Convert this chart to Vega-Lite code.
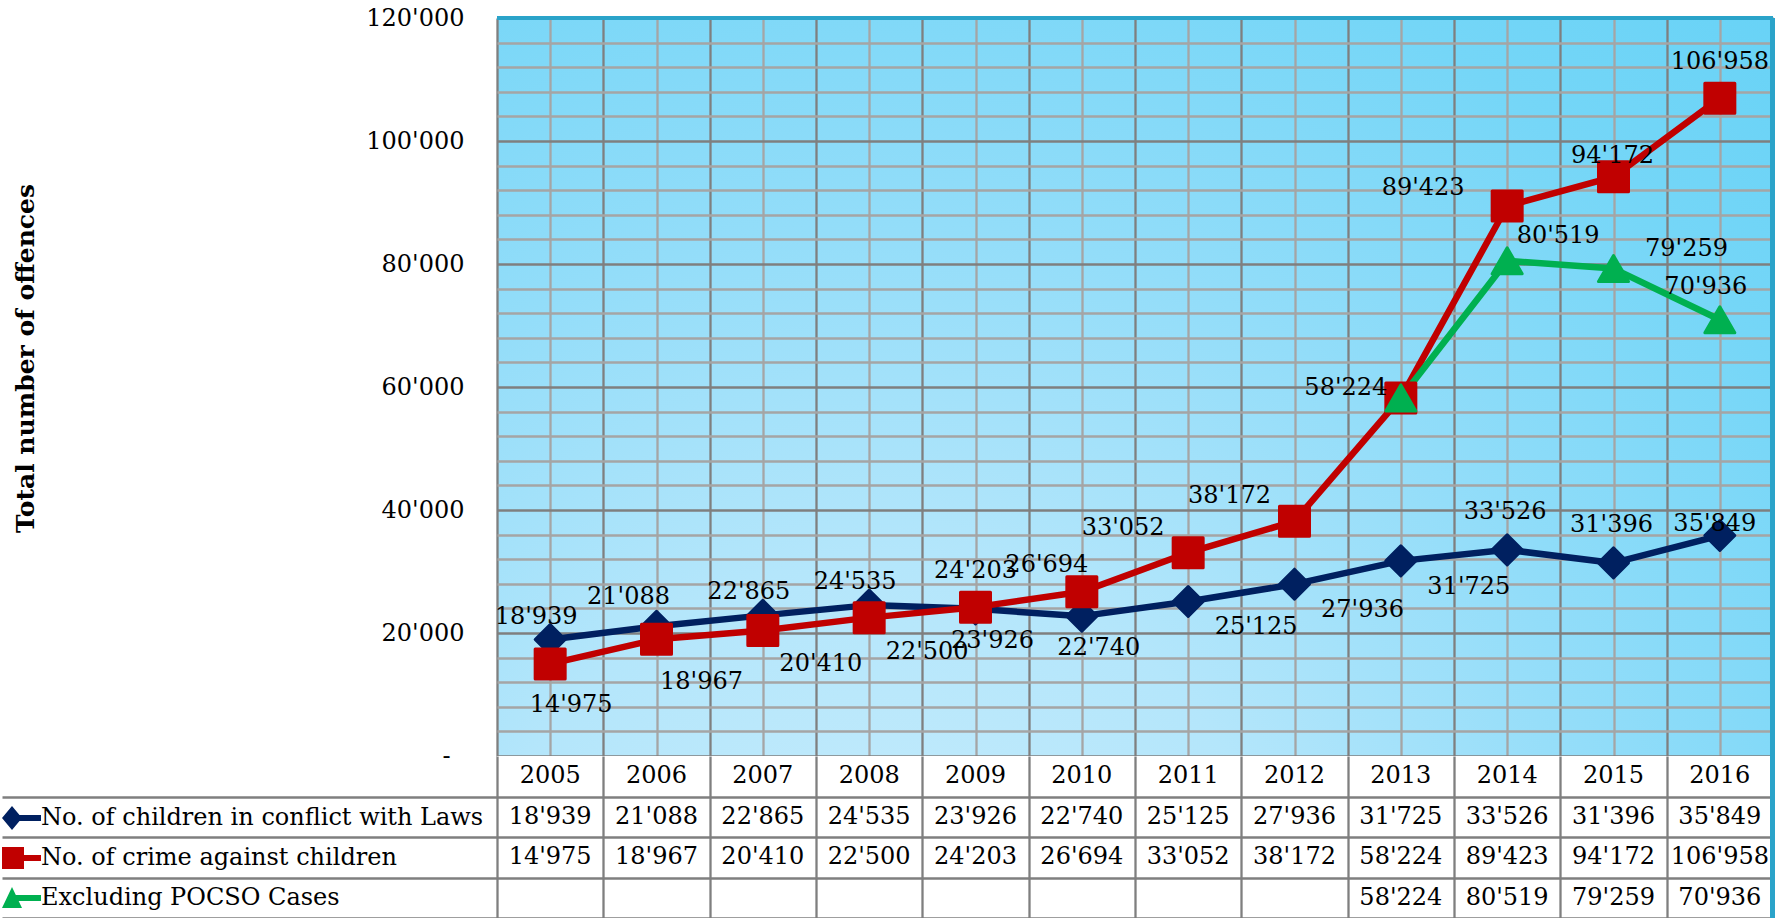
{
  "$schema": "https://vega.github.io/schema/vega-lite/v6.json",
  "background": "white",
  "padding": {"left": 0, "top": 6, "right": 0, "bottom": 0},
  "datasets": {
    "d": [
      {"year": 2005, "series": "No. of children in conflict with Laws", "value": 18939},
      {"year": 2006, "series": "No. of children in conflict with Laws", "value": 21088},
      {"year": 2007, "series": "No. of children in conflict with Laws", "value": 22865},
      {"year": 2008, "series": "No. of children in conflict with Laws", "value": 24535},
      {"year": 2009, "series": "No. of children in conflict with Laws", "value": 23926},
      {"year": 2010, "series": "No. of children in conflict with Laws", "value": 22740},
      {"year": 2011, "series": "No. of children in conflict with Laws", "value": 25125},
      {"year": 2012, "series": "No. of children in conflict with Laws", "value": 27936},
      {"year": 2013, "series": "No. of children in conflict with Laws", "value": 31725},
      {"year": 2014, "series": "No. of children in conflict with Laws", "value": 33526},
      {"year": 2015, "series": "No. of children in conflict with Laws", "value": 31396},
      {"year": 2016, "series": "No. of children in conflict with Laws", "value": 35849},
      {"year": 2005, "series": "No. of crime against children", "value": 14975},
      {"year": 2006, "series": "No. of crime against children", "value": 18967},
      {"year": 2007, "series": "No. of crime against children", "value": 20410},
      {"year": 2008, "series": "No. of crime against children", "value": 22500},
      {"year": 2009, "series": "No. of crime against children", "value": 24203},
      {"year": 2010, "series": "No. of crime against children", "value": 26694},
      {"year": 2011, "series": "No. of crime against children", "value": 33052},
      {"year": 2012, "series": "No. of crime against children", "value": 38172},
      {"year": 2013, "series": "No. of crime against children", "value": 58224},
      {"year": 2014, "series": "No. of crime against children", "value": 89423},
      {"year": 2015, "series": "No. of crime against children", "value": 94172},
      {"year": 2016, "series": "No. of crime against children", "value": 106958},
      {"year": 2013, "series": "Excluding POCSO Cases", "value": 58224},
      {"year": 2014, "series": "Excluding POCSO Cases", "value": 80519},
      {"year": 2015, "series": "Excluding POCSO Cases", "value": 79259},
      {"year": 2016, "series": "Excluding POCSO Cases", "value": 70936}
    ]
  },
  "spacing": 0,
  "bounds": "flush",
  "resolve": {
    "scale": {"x": "independent", "y": "independent", "color": "independent", "shape": "independent", "stroke": "independent"},
    "legend": {"color": "independent", "shape": "independent"}
  },
  "vconcat": [
    {
      "width": 1276,
      "height": 738,
      "data": {"name": "d"},
      "view": {
        "fill": {
          "gradient": "radial",
          "x1": 0.3, "y1": 0.95, "r1": 0,
          "x2": 0.3, "y2": 0.95, "r2": 1.05,
          "stops": [
            {"offset": 0, "color": "#c6ecfc"},
            {"offset": 0.3, "color": "#b4e6fb"},
            {"offset": 0.55, "color": "#93ddf9"},
            {"offset": 0.8, "color": "#75d6f7"},
            {"offset": 1, "color": "#66d2f6"}
          ]
        },
        "stroke": null
      },
      "resolve": {"axis": {"y": "independent"}},
      "layer": [
        {
          "layer": [
            {
              "mark": {"type": "line", "strokeWidth": 6.5, "strokeJoin": "round", "strokeCap": "round"},
              "encoding": {
                "x": {
                  "field": "year", "type": "quantitative",
                  "scale": {"domain": [2004.5, 2016.5], "nice": false, "zero": false},
                  "axis": {
                    "values": [2004.5, 2005, 2005.5, 2006, 2006.5, 2007, 2007.5, 2008, 2008.5, 2009, 2009.5, 2010, 2010.5, 2011, 2011.5, 2012, 2012.5, 2013, 2013.5, 2014, 2014.5, 2015, 2015.5, 2016, 2016.5],
                    "labels": false, "ticks": false, "domain": false, "title": null,
                    "grid": true,
                    "gridColor": {"condition": {"test": "datum.value % 1 === 0", "value": "#a5a5a5"}, "value": "#7f7f7f"},
                    "gridWidth": 2.3, "gridOpacity": 1
                  }
                },
                "y": {
                  "field": "value", "type": "quantitative",
                  "scale": {"domain": [0, 120000], "nice": false, "zero": true},
                  "axis": {
                    "orient": "left",
                    "values": [0, 20000, 40000, 60000, 80000, 100000, 120000],
                    "labelExpr": "datum.value === 0 ? '-' : format(datum.value, ',')",
                    "labelOverlap": false, "labelFlush": false,
                    "ticks": false, "tickSize": 0, "domain": false,
                    "labelPadding": {"condition": {"test": "datum.value === 0", "value": 47}, "value": 33},
                    "labelFont": "DejaVu Serif", "labelFontSize": 24, "labelColor": "black",
                    "title": "Total number of offences",
                    "titleFont": "DejaVu Serif", "titleFontSize": 25, "titleFontWeight": "bold", "titleColor": "black",
                    "titleX": -472, "titleY": 340, "titleAngle": 270, "titleAlign": "center", "titleBaseline": "middle",
                    "grid": true, "gridColor": "#7f7f7f", "gridWidth": 2.3, "gridOpacity": 1
                  }
                },
                "color": {
                  "field": "series", "type": "nominal",
                  "scale": {"domain": ["No. of children in conflict with Laws", "No. of crime against children", "Excluding POCSO Cases"], "range": ["#002060", "#C00000", "#00B050"]},
                  "legend": null
                }
              }
            },
            {
              "mark": {"type": "point", "filled": true, "size": 900, "opacity": 1, "strokeWidth": 3, "strokeJoin": "round"},
              "encoding": {
                "x": {"field": "year", "type": "quantitative"},
                "y": {"field": "value", "type": "quantitative"},
                "color": {"field": "series", "type": "nominal", "legend": null},
                "stroke": {
                  "field": "series", "type": "nominal",
                  "scale": {"domain": ["No. of children in conflict with Laws", "No. of crime against children", "Excluding POCSO Cases"], "range": ["#002060", "#C00000", "#00B050"]},
                  "legend": null
                },
                "shape": {
                  "field": "series", "type": "nominal",
                  "scale": {"domain": ["No. of children in conflict with Laws", "No. of crime against children", "Excluding POCSO Cases"], "range": ["diamond", "square", "triangle-up"]},
                  "legend": null
                }
              }
            },
            {
              "transform": [{"filter": {"and": [{"field": "series", "equal": "No. of children in conflict with Laws"}, {"field": "year", "oneOf": [2005, 2007, 2008]}]}}],
              "mark": {"type": "text", "dx": -14, "dy": -23, "font": "DejaVu Serif", "fontSize": 24, "color": "black"},
              "encoding": {"x": {"field": "year", "type": "quantitative"}, "y": {"field": "value", "type": "quantitative"}, "text": {"field": "value", "type": "quantitative", "format": ","}}
            },
            {
              "transform": [{"filter": {"and": [{"field": "series", "equal": "No. of children in conflict with Laws"}, {"field": "year", "oneOf": [2006]}]}}],
              "mark": {"type": "text", "dx": -28, "dy": -29, "font": "DejaVu Serif", "fontSize": 24, "color": "black"},
              "encoding": {"x": {"field": "year", "type": "quantitative"}, "y": {"field": "value", "type": "quantitative"}, "text": {"field": "value", "type": "quantitative", "format": ","}}
            },
            {
              "transform": [{"filter": {"and": [{"field": "series", "equal": "No. of children in conflict with Laws"}, {"field": "year", "oneOf": [2009, 2010]}]}}],
              "mark": {"type": "text", "dx": 17, "dy": 32, "font": "DejaVu Serif", "fontSize": 24, "color": "black"},
              "encoding": {"x": {"field": "year", "type": "quantitative"}, "y": {"field": "value", "type": "quantitative"}, "text": {"field": "value", "type": "quantitative", "format": ","}}
            },
            {
              "transform": [{"filter": {"and": [{"field": "series", "equal": "No. of children in conflict with Laws"}, {"field": "year", "oneOf": [2011, 2012, 2013]}]}}],
              "mark": {"type": "text", "dx": 68, "dy": 26, "font": "DejaVu Serif", "fontSize": 24, "color": "black"},
              "encoding": {"x": {"field": "year", "type": "quantitative"}, "y": {"field": "value", "type": "quantitative"}, "text": {"field": "value", "type": "quantitative", "format": ","}}
            },
            {
              "transform": [{"filter": {"and": [{"field": "series", "equal": "No. of children in conflict with Laws"}, {"field": "year", "oneOf": [2014, 2015]}]}}],
              "mark": {"type": "text", "dx": -2, "dy": -38, "font": "DejaVu Serif", "fontSize": 24, "color": "black"},
              "encoding": {"x": {"field": "year", "type": "quantitative"}, "y": {"field": "value", "type": "quantitative"}, "text": {"field": "value", "type": "quantitative", "format": ","}}
            },
            {
              "transform": [{"filter": {"and": [{"field": "series", "equal": "No. of children in conflict with Laws"}, {"field": "year", "oneOf": [2016]}]}}],
              "mark": {"type": "text", "dx": -5, "dy": -12, "font": "DejaVu Serif", "fontSize": 24, "color": "black"},
              "encoding": {"x": {"field": "year", "type": "quantitative"}, "y": {"field": "value", "type": "quantitative"}, "text": {"field": "value", "type": "quantitative", "format": ","}}
            },
            {
              "transform": [{"filter": {"and": [{"field": "series", "equal": "No. of crime against children"}, {"field": "year", "oneOf": [2005]}]}}],
              "mark": {"type": "text", "dx": 21, "dy": 41, "font": "DejaVu Serif", "fontSize": 24, "color": "black"},
              "encoding": {"x": {"field": "year", "type": "quantitative"}, "y": {"field": "value", "type": "quantitative"}, "text": {"field": "value", "type": "quantitative", "format": ","}}
            },
            {
              "transform": [{"filter": {"and": [{"field": "series", "equal": "No. of crime against children"}, {"field": "year", "oneOf": [2006]}]}}],
              "mark": {"type": "text", "dx": 45, "dy": 43, "font": "DejaVu Serif", "fontSize": 24, "color": "black"},
              "encoding": {"x": {"field": "year", "type": "quantitative"}, "y": {"field": "value", "type": "quantitative"}, "text": {"field": "value", "type": "quantitative", "format": ","}}
            },
            {
              "transform": [{"filter": {"and": [{"field": "series", "equal": "No. of crime against children"}, {"field": "year", "oneOf": [2007, 2008]}]}}],
              "mark": {"type": "text", "dx": 58, "dy": 34, "font": "DejaVu Serif", "fontSize": 24, "color": "black"},
              "encoding": {"x": {"field": "year", "type": "quantitative"}, "y": {"field": "value", "type": "quantitative"}, "text": {"field": "value", "type": "quantitative", "format": ","}}
            },
            {
              "transform": [{"filter": {"and": [{"field": "series", "equal": "No. of crime against children"}, {"field": "year", "oneOf": [2009, 2016]}]}}],
              "mark": {"type": "text", "dx": 0, "dy": -36, "font": "DejaVu Serif", "fontSize": 24, "color": "black"},
              "encoding": {"x": {"field": "year", "type": "quantitative"}, "y": {"field": "value", "type": "quantitative"}, "text": {"field": "value", "type": "quantitative", "format": ","}}
            },
            {
              "transform": [{"filter": {"and": [{"field": "series", "equal": "No. of crime against children"}, {"field": "year", "oneOf": [2010]}]}}],
              "mark": {"type": "text", "dx": -35, "dy": -27, "font": "DejaVu Serif", "fontSize": 24, "color": "black"},
              "encoding": {"x": {"field": "year", "type": "quantitative"}, "y": {"field": "value", "type": "quantitative"}, "text": {"field": "value", "type": "quantitative", "format": ","}}
            },
            {
              "transform": [{"filter": {"and": [{"field": "series", "equal": "No. of crime against children"}, {"field": "year", "oneOf": [2011, 2012]}]}}],
              "mark": {"type": "text", "dx": -65, "dy": -25, "font": "DejaVu Serif", "fontSize": 24, "color": "black"},
              "encoding": {"x": {"field": "year", "type": "quantitative"}, "y": {"field": "value", "type": "quantitative"}, "text": {"field": "value", "type": "quantitative", "format": ","}}
            },
            {
              "transform": [{"filter": {"and": [{"field": "series", "equal": "No. of crime against children"}, {"field": "year", "oneOf": [2013]}]}}],
              "mark": {"type": "text", "dx": -55, "dy": -10, "font": "DejaVu Serif", "fontSize": 24, "color": "black"},
              "encoding": {"x": {"field": "year", "type": "quantitative"}, "y": {"field": "value", "type": "quantitative"}, "text": {"field": "value", "type": "quantitative", "format": ","}}
            },
            {
              "transform": [{"filter": {"and": [{"field": "series", "equal": "No. of crime against children"}, {"field": "year", "oneOf": [2014]}]}}],
              "mark": {"type": "text", "dx": -84, "dy": -18, "font": "DejaVu Serif", "fontSize": 24, "color": "black"},
              "encoding": {"x": {"field": "year", "type": "quantitative"}, "y": {"field": "value", "type": "quantitative"}, "text": {"field": "value", "type": "quantitative", "format": ","}}
            },
            {
              "transform": [{"filter": {"and": [{"field": "series", "equal": "No. of crime against children"}, {"field": "year", "oneOf": [2015]}]}}],
              "mark": {"type": "text", "dx": -1, "dy": -21, "font": "DejaVu Serif", "fontSize": 24, "color": "black"},
              "encoding": {"x": {"field": "year", "type": "quantitative"}, "y": {"field": "value", "type": "quantitative"}, "text": {"field": "value", "type": "quantitative", "format": ","}}
            },
            {
              "transform": [{"filter": {"and": [{"field": "series", "equal": "Excluding POCSO Cases"}, {"field": "year", "oneOf": [2014]}]}}],
              "mark": {"type": "text", "dx": 51, "dy": -25, "font": "DejaVu Serif", "fontSize": 24, "color": "black"},
              "encoding": {"x": {"field": "year", "type": "quantitative"}, "y": {"field": "value", "type": "quantitative"}, "text": {"field": "value", "type": "quantitative", "format": ","}}
            },
            {
              "transform": [{"filter": {"and": [{"field": "series", "equal": "Excluding POCSO Cases"}, {"field": "year", "oneOf": [2015]}]}}],
              "mark": {"type": "text", "dx": 73, "dy": -20, "font": "DejaVu Serif", "fontSize": 24, "color": "black"},
              "encoding": {"x": {"field": "year", "type": "quantitative"}, "y": {"field": "value", "type": "quantitative"}, "text": {"field": "value", "type": "quantitative", "format": ","}}
            },
            {
              "transform": [{"filter": {"and": [{"field": "series", "equal": "Excluding POCSO Cases"}, {"field": "year", "oneOf": [2016]}]}}],
              "mark": {"type": "text", "dx": -14, "dy": -33, "font": "DejaVu Serif", "fontSize": 24, "color": "black"},
              "encoding": {"x": {"field": "year", "type": "quantitative"}, "y": {"field": "value", "type": "quantitative"}, "text": {"field": "value", "type": "quantitative", "format": ","}}
            },
            {
              "mark": {"type": "rule", "color": "#2ba3c9", "strokeWidth": 5},
              "encoding": {"x": {"datum": 2016.5, "type": "quantitative"}}
            }
          ]
        },
        {
          "mark": {"type": "rule", "color": "#2ba3c9", "strokeWidth": 3},
          "encoding": {
            "y": {
              "datum": 120000, "type": "quantitative",
              "axis": {
                "orient": "right",
                "values": [4000, 8000, 12000, 16000, 24000, 28000, 32000, 36000, 44000, 48000, 52000, 56000, 64000, 68000, 72000, 76000, 84000, 88000, 92000, 96000, 104000, 108000, 112000, 116000],
                "labels": false, "ticks": false, "domain": false, "title": null,
                "grid": true, "gridColor": "#a5a5a5", "gridWidth": 2.3, "gridOpacity": 1
              }
            }
          }
        }
      ]
    },
    {
      "width": 1276,
      "height": 162,
      "data": {"name": "d"},
      "view": {"fill": "white", "stroke": null},
      "layer": [
        {
          "mark": {"type": "text", "font": "DejaVu Serif", "fontSize": 24, "color": "black"},
          "encoding": {
            "x": {
              "field": "year", "type": "quantitative",
              "scale": {"domain": [2004.5, 2016.5], "nice": false, "zero": false},
              "axis": {
                "values": [2004.5, 2005.5, 2006.5, 2007.5, 2008.5, 2009.5, 2010.5, 2011.5, 2012.5, 2013.5, 2014.5, 2015.5, 2016.5],
                "labels": false, "ticks": false, "domain": false, "title": null,
                "grid": true, "gridColor": "#7f7f7f", "gridWidth": 2.3, "gridOpacity": 1
              }
            },
            "y": {
              "field": "series", "type": "nominal",
              "scale": {"type": "band", "domain": ["Year", "No. of children in conflict with Laws", "No. of crime against children", "Excluding POCSO Cases"], "paddingInner": 0, "paddingOuter": 0},
              "axis": {
                "values": ["No. of children in conflict with Laws", "No. of crime against children", "Excluding POCSO Cases"],
                "tickBand": "extent", "ticks": true, "tickSize": 495, "tickColor": "#7f7f7f", "tickWidth": 2.3,
                "grid": true, "gridColor": "#7f7f7f", "gridWidth": 2.3, "gridOpacity": 1,
                "labels": false, "domain": false, "title": null
              }
            },
            "text": {"field": "value", "type": "quantitative", "format": ","}
          }
        },
        {
          "transform": [{"filter": {"field": "series", "equal": "No. of children in conflict with Laws"}}],
          "mark": {"type": "text", "font": "DejaVu Serif", "fontSize": 24, "color": "black"},
          "encoding": {
            "x": {"field": "year", "type": "quantitative"},
            "y": {"datum": "Year", "type": "nominal"},
            "text": {"field": "year", "type": "quantitative", "format": "d"}
          }
        },
        {
          "mark": {"type": "point", "filled": true, "opacity": 0},
          "encoding": {
            "x": {"field": "year", "type": "quantitative"},
            "y": {"field": "series", "type": "nominal"},
            "color": {
              "field": "series", "type": "nominal",
              "scale": {"domain": ["No. of children in conflict with Laws", "No. of crime against children", "Excluding POCSO Cases"], "range": ["#002060", "#C00000", "#00B050"]},
              "legend": {"orient": "none", "legendX": -495, "legendY": 42, "title": null, "symbolSize": 1600, "symbolOpacity": 1, "symbolStrokeWidth": 0, "labelFont": "DejaVu Serif", "labelFontSize": 24, "labelColor": "black", "labelOffset": -1, "labelLimit": 700, "rowPadding": 8, "padding": 0}
            },
            "shape": {
              "field": "series", "type": "nominal",
              "scale": {"domain": ["No. of children in conflict with Laws", "No. of crime against children", "Excluding POCSO Cases"], "range": [
                "M-1,0L-0.5,-0.6L0,0L-0.5,0.6Z M-0.5,-0.15L0.95,-0.15L0.95,0.15L-0.5,0.15Z",
                "M-1,-0.55L0.1,-0.55L0.1,0.55L-1,0.55Z M-0.45,-0.15L0.95,-0.15L0.95,0.15L-0.45,0.15Z",
                "M-0.5,-0.55L0,0.5L-1,0.5Z M-0.4,-0.15L0.95,-0.15L0.95,0.15L-0.4,0.15Z"
              ]},
              "legend": {"orient": "none", "legendX": -495, "legendY": 42, "title": null, "symbolSize": 1600, "symbolOpacity": 1, "symbolStrokeWidth": 0, "labelFont": "DejaVu Serif", "labelFontSize": 24, "labelColor": "black", "labelOffset": -1, "labelLimit": 700, "rowPadding": 8, "padding": 0}
            }
          }
        },
        {
          "mark": {"type": "rule", "color": "#2ba3c9", "strokeWidth": 5},
          "encoding": {"x": {"datum": 2016.5, "type": "quantitative"}}
        }
      ]
    }
  ],
  "config": {
    "font": "DejaVu Serif",
    "locale": {"number": {"decimal": ".", "thousands": "'", "grouping": [3], "currency": ["", ""]}},
    "axis": {"labelFont": "DejaVu Serif", "titleFont": "DejaVu Serif"},
    "legend": {"labelFont": "DejaVu Serif"}
  }
}
